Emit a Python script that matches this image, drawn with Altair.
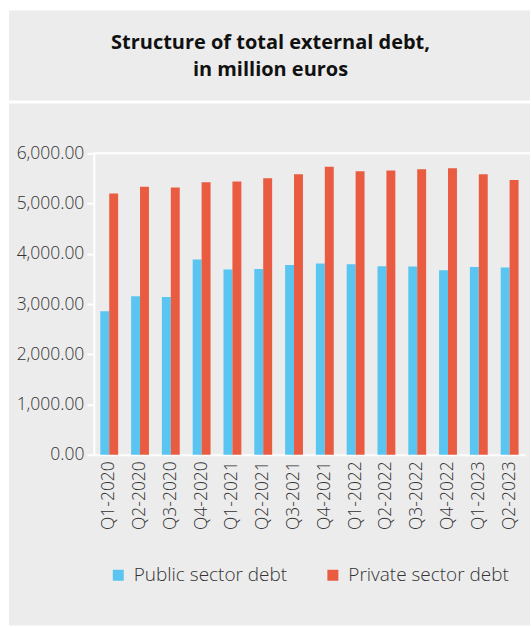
import altair as alt
import pandas as pd

quarters = ["Q1-2020", "Q2-2020", "Q3-2020", "Q4-2020", "Q1-2021", "Q2-2021", "Q3-2021",
            "Q4-2021", "Q1-2022", "Q2-2022", "Q3-2022", "Q4-2022", "Q1-2023", "Q2-2023"]
public_debt = [2855, 3153, 3141, 3884, 3685, 3699, 3779, 3805, 3791, 3751, 3745, 3672, 3738, 3725]
private_debt = [5199, 5332, 5319, 5425, 5438, 5505, 5584, 5730, 5644, 5657, 5684, 5704, 5584, 5471]
series = ["Public sector debt", "Private sector debt"]
colors = ["#5BC5F2", "#E95C42"]
y_ticks = [0, 1000, 2000, 3000, 4000, 5000, 6000]
title_lines = ["Structure of total external debt,", "in million euros"]

rows = []
for q, pub, pri in zip(quarters, public_debt, private_debt):
    rows.append({"quarter": q, "series": series[0], "value": pub})
    rows.append({"quarter": q, "series": series[1], "value": pri})
df = pd.DataFrame(rows)

FONT = "Open Sans"
GRAY = "#ECECEC"
W = 522

title_chart = alt.Chart(pd.DataFrame({"t": ["\n".join(title_lines)]})).mark_text(
    font=FONT, fontSize=20, fontWeight="bold", color="#111111",
    lineBreak="\n", lineHeight=27, align="center", baseline="middle"
).encode(
    text="t:N", x=alt.value(262), y=alt.value(33)
).properties(width=W, height=90)

bars = alt.Chart(df).mark_bar().encode(
    x=alt.X("quarter:N", sort=quarters,
            scale=alt.Scale(range=[85, 517], paddingInner=0.42, paddingOuter=0.21),
            axis=alt.Axis(title=None, labelAngle=-90, labelAlign="right", labelBaseline="middle",
                          labelFont=FONT, labelFontSize=17.5, labelFontWeight=300, labelColor="#333333",
                          labelPadding=6, ticks=False, domainColor="white", domainWidth=2,
                          offset=-171)),
    xOffset=alt.XOffset("series:N", sort=series),
    y=alt.Y("value:Q", scale=alt.Scale(domain=[0, 6000], range=[352, 50], nice=False),
            axis=alt.Axis(title=None, values=y_ticks, format=",.2f",
                          labelFont=FONT, labelFontSize=17.5, labelFontWeight=300, labelColor="#333333",
                          labelPadding=3, tickSize=7, tickColor="white", tickWidth=2,
                          domainColor="white", domainWidth=2, offset=-85, grid=False)),
    color=alt.Color("series:N", sort=series,
                    scale=alt.Scale(domain=series, range=colors),
                    legend=alt.Legend(title=None, orient="none", direction="horizontal",
                                      legendX=100, legendY=556, symbolType="square", symbolSize=121,
                                      symbolStrokeWidth=0, labelFont=FONT, labelFontSize=19,
                                      labelFontWeight=300, labelColor="#333333", labelOffset=6,
                                      labelLimit=0, columnPadding=36, padding=0)),
)

top_rule = alt.Chart(pd.DataFrame({"v": [6000]})).mark_rule(color="white", strokeWidth=2).encode(
    y="v:Q", x=alt.value(85), x2=alt.value(W)
)

main = alt.layer(bars, top_rule).properties(width=W, height=523)

chart = alt.vconcat(title_chart, main, spacing=3).properties(
    background="white",
    padding={"left": 9, "top": 10, "right": 0, "bottom": 1},
).configure_view(fill=GRAY, stroke=None).configure_axis(grid=False)

chart.save("out.html", embed_options={"renderer": "svg", "actions": False})
